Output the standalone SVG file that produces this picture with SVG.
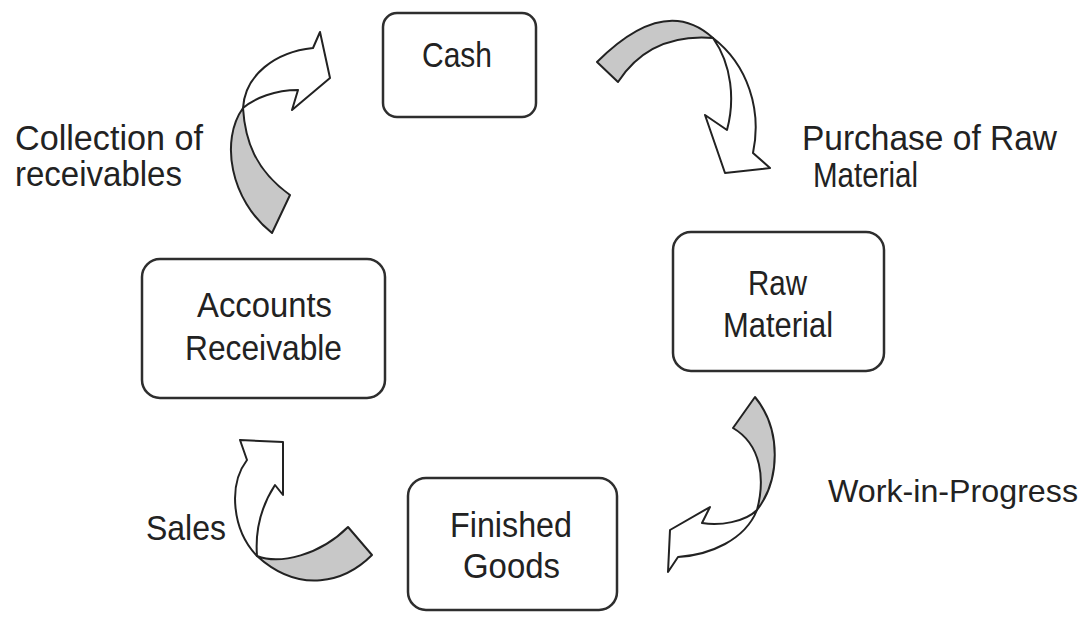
<svg xmlns="http://www.w3.org/2000/svg" width="1091" height="617" viewBox="0 0 1091 617">
<style>
.box{fill:#fff;stroke:#2e2e2e;stroke-width:2.5}
.t{font-family:"Liberation Sans",Arial,sans-serif;font-size:35px;fill:#222}
.aw{fill:#fff;stroke:#222;stroke-width:2;stroke-linejoin:round}
.ag{fill:#c8c8c8;stroke:#222;stroke-width:2;stroke-linejoin:round}
</style>
<rect width="1091" height="617" fill="#fff"/>
<g id="connectors">
<g id="arrow-purchase">
<path class="aw" d="M713,38 C748,65 762,110 753,153 L770,168 L725,173 L705,115 L727,130 C735,100 732,65 713,38 Z"/>
<path class="ag" d="M597,62 Q665,-6 713,38 Q650,33 618,82 Z"/>
</g>
<g id="arrow-wip">
<path class="aw" d="M757,510 C745,540 710,555 678,557 L668,572 L670,530 L710,507 L702,523 C720,526 745,522 757,510 Z"/>
<path class="ag" d="M755,397 C782,430 780,480 757,510 C765,480 762,445 733,428 Z"/>
</g>
<g id="arrow-sales">
<path class="aw" d="M257,556 C232,530 228,485 247,460 L240,440 L283,442 L283,495 L275,485 C262,505 255,530 257,556 Z"/>
<path class="ag" d="M257,556 C280,565 320,555 348,527 L372,555 C345,582 300,595 257,556 Z"/>
</g>
<g id="arrow-collection">
<path class="aw" d="M243,108 C245,75 275,52 313,48 L320,32 L330,78 L292,110 L298,90 C275,90 255,98 243,108 Z"/>
<path class="ag" d="M272,233 C230,200 220,140 243,108 C245,140 255,170 290,195 Z"/>
</g>
</g>
<g id="cash">
<rect class="box" x="383" y="13" width="153" height="104" rx="14"/>
<text class="t" x="422" y="67" textLength="70" lengthAdjust="spacingAndGlyphs">Cash</text>
</g>
<g id="raw-material">
<rect class="box" x="673" y="232" width="211" height="139" rx="18"/>
<text class="t" x="748" y="295" textLength="59" lengthAdjust="spacingAndGlyphs">Raw</text>
<text class="t" x="723" y="337" textLength="110" lengthAdjust="spacingAndGlyphs">Material</text>
</g>
<g id="finished-goods">
<rect class="box" x="408" y="478" width="209" height="132" rx="18"/>
<text class="t" x="450" y="537" textLength="122" lengthAdjust="spacingAndGlyphs">Finished</text>
<text class="t" x="463" y="578" textLength="97" lengthAdjust="spacingAndGlyphs">Goods</text>
</g>
<g id="accounts-receivable">
<rect class="box" x="142" y="259" width="243" height="139" rx="18"/>
<text class="t" x="197" y="317" textLength="135" lengthAdjust="spacingAndGlyphs">Accounts</text>
<text class="t" x="185" y="360" textLength="157" lengthAdjust="spacingAndGlyphs">Receivable</text>
</g>
<g id="labels">
<text class="t" x="15" y="150" textLength="188" lengthAdjust="spacingAndGlyphs">Collection of</text>
<text class="t" x="15" y="186" textLength="167" lengthAdjust="spacingAndGlyphs">receivables</text>
<text class="t" x="802" y="150" textLength="255" lengthAdjust="spacingAndGlyphs">Purchase  of Raw</text>
<text class="t" x="813" y="187" textLength="105" lengthAdjust="spacingAndGlyphs">Material</text>
<text class="t" x="828" y="502" style="font-size:32px" textLength="250" lengthAdjust="spacingAndGlyphs">Work-in-Progress</text>
<text class="t" x="146" y="540" textLength="80" lengthAdjust="spacingAndGlyphs">Sales</text>
</g>
</svg>
